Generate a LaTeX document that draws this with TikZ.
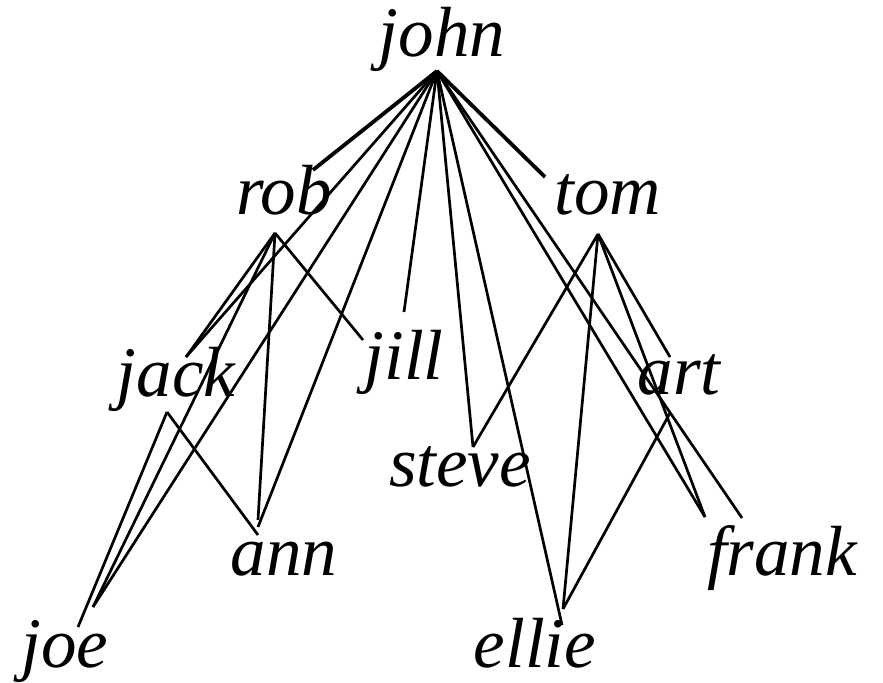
\documentclass[tikz,border=0pt]{standalone}
\usepackage{fontspec}
\setmainfont{Liberation Serif}
\begin{document}
\begin{tikzpicture}[x=0.5pt,y=-0.5pt,
  person/.style={anchor=base,inner sep=0pt,font=\fontsize{35.5}{40}\selectfont\itshape},
  link/.style={line width=1.35pt},
  mainlink/.style={line width=1.9pt}]
\useasboundingbox (0,0) rectangle (883,683);
% names
\node[person] (john) at (442,57) {john};
\node[person] (rob) at (284,215) {rob};
\node[person] (tom) at (608,215) {tom};
\node[person] (jack) at (176,397) {jack};
\node[person] (jill) at (404,380) {jill};
\node[person] (art) at (679,395) {art};
\node[person] (steve) at (460,487) {steve};
\node[person] (ann) at (284,575) {ann};
\node[person] (frank) at (782,575) {frank};
\node[person] (joe) at (65,667) {joe};
\node[person] (ellie) at (535,667) {ellie};
% end points
\coordinate (john-b) at (437,71);
\coordinate (rob-t) at (313,170);
\coordinate (rob-b) at (275,233);
\coordinate (tom-t) at (545,177);
\coordinate (tom-b) at (598,234);
\coordinate (jack-t) at (186,357);
\coordinate (jack-b) at (167,412);
\coordinate (jill-t) at (404,312);
\coordinate (jill-l) at (363,340);
\coordinate (art-t) at (670,357);
\coordinate (art-b) at (670,413);
\coordinate (steve-t) at (473,447);
\coordinate (ann-a) at (258,520);
\coordinate (ann-b) at (258,527);
\coordinate (ann-c) at (258,535);
\coordinate (frank-l) at (705,517);
\coordinate (frank-r) at (742,518);
\coordinate (joe-t) at (93,607);
\coordinate (joe-l) at (78,627);
\coordinate (ellie-t) at (563,609);
\coordinate (ellie-l) at (562,625);
% john
\draw[mainlink] (john-b) -- (rob-t);
\draw[mainlink] (john-b) -- (tom-t);
\draw[link] (john-b) -- (jack-t);
\draw[link] (john-b) -- (joe-t);
\draw[link] (john-b) -- (ann-b);
\draw[link] (john-b) -- (jill-t);
\draw[link] (john-b) -- (steve-t);
\draw[link] (john-b) -- (ellie-l);
\draw[link] (john-b) -- (frank-l);
\draw[link] (john-b) -- (frank-r);
% rob
\draw[link] (rob-b) -- (jack-t);
\draw[link] (rob-b) -- (joe-t);
\draw[link] (rob-b) -- (ann-a);
\draw[link] (rob-b) -- (jill-l);
% tom
\draw[link] (tom-b) -- (steve-t);
\draw[link] (tom-b) -- (ellie-t);
\draw[link] (tom-b) -- (art-t);
\draw[link] (tom-b) -- (frank-l);
% jack
\draw[link] (jack-b) -- (joe-l);
\draw[link] (jack-b) -- (ann-c);
% art
\draw[link] (art-b) -- (ellie-t);
\end{tikzpicture}
\end{document}
